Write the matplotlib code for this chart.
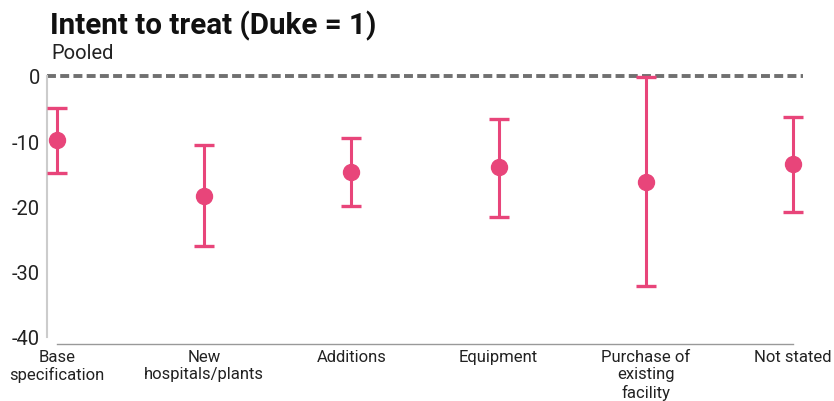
import matplotlib
matplotlib.use("Agg")
import matplotlib.pyplot as plt
import numpy as np

categories = ["Base\nspecification", "New\nhospitals/plants", "Additions", "Equipment",
              "Purchase of\nexisting\nfacility", "Not stated"]
estimate = [-9.8, -18.4, -14.7, -13.9, -16.2, -13.5]
upper = [-4.9, -10.6, -9.5, -6.6, -0.1, -6.3]
lower = [-14.9, -26.1, -19.9, -21.6, -32.2, -20.8]
yticks = [0, -10, -20, -30, -40]

pink = "#E8457A"
plt.rcParams['font.family'] = ['Roboto', 'DejaVu Sans']

W, H = 834, 402
fig = plt.figure(figsize=(W / 100, H / 100), dpi=100)
left, right, top, bottom = 47, 803, 77, 338
ax = fig.add_axes([left / W, 1 - bottom / H, (right - left) / W, (bottom - top) / H])

x = np.arange(len(categories))
est = np.array(estimate)
yerr = np.vstack([est - np.array(lower), np.array(upper) - est])

ax.axhline(0, color="#707070", lw=2.8, ls=(0, (2.3, 1.1)), zorder=1, clip_on=False)
eb = ax.errorbar(x, est, yerr=yerr, fmt='o', color=pink, ecolor=pink, elinewidth=2.2,
                 capsize=7, capthick=2.4, markersize=11.5, zorder=3)
for artist in eb.lines[1] + eb.lines[2] + (eb.lines[0],):
    artist.set_clip_on(False)

ax.set_ylim(-40, 0)
ax.set_xlim(-10 / 147.2, (803 - 57) / 147.2)
ax.set_yticks(yticks)
ax.set_yticklabels([str(v) for v in yticks])
ax.set_xticks(x)
ax.set_xticklabels(categories)
ax.tick_params(axis='y', length=0, pad=5, labelsize=14.5, labelcolor="#222222")
ax.tick_params(axis='x', length=0, pad=3.5, labelsize=12, labelcolor="#222222")
for lab in ax.get_xticklabels():
    lab.set_fontsize(12)
    lab.set_linespacing(1.12)

for s in ['top', 'right']:
    ax.spines[s].set_visible(False)
ax.spines['left'].set_color("#cccccc")
ax.spines['left'].set_linewidth(1.5)
ax.spines['bottom'].set_position(('outward', 5))
ax.spines['bottom'].set_bounds(0, 5)
ax.spines['bottom'].set_color("#999999")
ax.spines['bottom'].set_linewidth(1)

fig.text(50 / W, 1 - 34 / H, "Intent to treat (Duke = 1)", fontsize=21.3, fontweight='bold',
         color="#111111", ha='left', va='baseline')
fig.text(51 / W, 1 - 59 / H, "Pooled", fontsize=14.5, fontweight='normal', color="#222222",
         ha='left', va='baseline')

fig.savefig("out.png", dpi=100)
